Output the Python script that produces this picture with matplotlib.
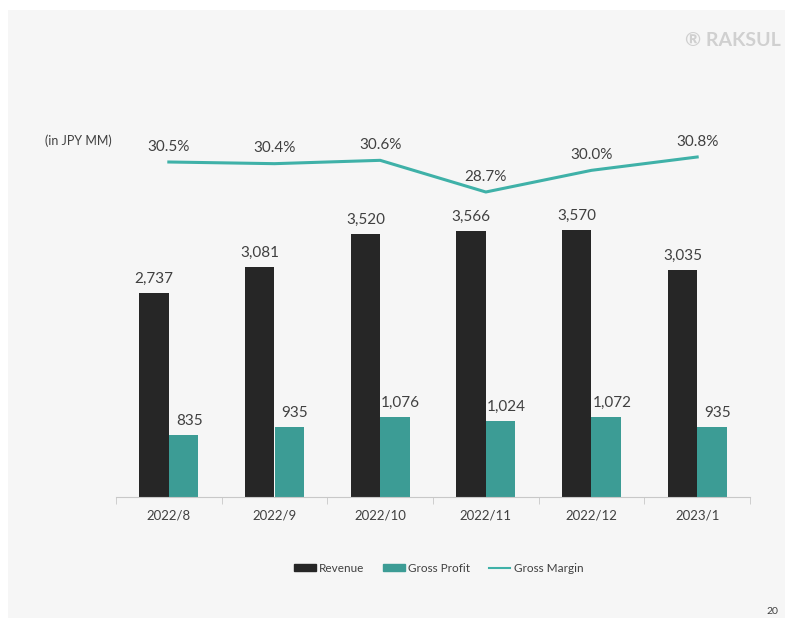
"""Monthly revenue / gross profit with gross margin line."""

import numpy as np
import matplotlib.pyplot as plt
from matplotlib.patches import Rectangle, Patch
from matplotlib.lines import Line2D

months = ['2022/8', '2022/9', '2022/10', '2022/11', '2022/12', '2023/1']
revenue = [2737, 3081, 3520, 3566, 3570, 3035]
gross_profit = [835, 935, 1076, 1024, 1072, 935]
gross_margin = [30.5, 30.4, 30.6, 28.7, 30.0, 30.8]

REV_C = '#262626'
GP_C = '#3c9c95'
GM_C = '#3fb1a8'
TXT = '#404040'

plt.rcParams['font.family'] = ['Lato', 'DejaVu Sans']

W, H = 791, 624
fig = plt.figure(figsize=(W / 100, H / 100), dpi=100)
fig.patch.set_facecolor('white')
fig.add_artist(Rectangle((8 / W, 1 - 618 / H), 777 / W, 608 / H,
                         transform=fig.transFigure, facecolor='#f6f6f6',
                         edgecolor='none', zorder=-5))

ax = fig.add_axes([116 / W, 127 / H, 634 / W, 373.5 / H])
ax.set_facecolor('none')
x = np.arange(len(months))
bw = 0.28
ax.bar(x - bw / 2, revenue, bw, color=REV_C)
ax.bar(x + bw / 2, gross_profit, bw, color=GP_C)
for xi, v in zip(x, revenue):
    ax.annotate(f'{v:,}', (xi - bw / 2, v), xytext=(0, 5), textcoords='offset points',
                ha='center', va='bottom', fontsize=11, color=TXT)
for xi, v in zip(x, gross_profit):
    ax.annotate(f'{v:,}', (xi + bw / 2, v), xytext=(4, 5), textcoords='offset points',
                ha='center', va='bottom', fontsize=11, color=TXT)
ax.set_xlim(-0.5, len(months) - 0.5)
ax.set_ylim(0, 5000)
ax.set_yticks([])
ax.set_xticks(x)
ax.set_xticklabels(months, fontsize=9.5, color=TXT)
ax.tick_params(axis='x', which='major', length=0, pad=9)
ax.set_xticks(np.arange(-0.5, len(months)), minor=True)
ax.tick_params(axis='x', which='minor', length=5, color='#c8c8c8')
for s in ['top', 'left', 'right']:
    ax.spines[s].set_visible(False)
ax.spines['bottom'].set_color('#c8c8c8')

ax2 = ax.twinx()
ax2.plot(x, gross_margin, color=GM_C, lw=2.2)
for xi, v in zip(x, gross_margin):
    ax2.annotate(f'{v:.1f}%', (xi, v), xytext=(0, 6), textcoords='offset points',
                 ha='center', va='bottom', fontsize=11, color=TXT)
ax2.set_ylim(10.4, 32.81)
ax2.axis('off')

fig.text(45 / W, 1 - 141 / H, '(in JPY MM)', fontsize=9, color=TXT, va='center')

handles = [Patch(color=REV_C), Patch(color=GP_C), Line2D([], [], color=GM_C, lw=1.5)]
fig.legend(handles, ['Revenue', 'Gross Profit', 'Gross Margin'], loc='center',
           bbox_to_anchor=(439 / W, 1 - 568 / H), ncol=3, frameon=False, fontsize=8.5,
           handlelength=1.8, handleheight=0.6, handletextpad=0.3, columnspacing=1.6,
           labelcolor=TXT)

fig.text(781 / W, 1 - 40 / H, '\u00AE RAKSUL', fontsize=14, color='#d0d0d0',
         ha='right', va='center', fontweight='bold')
fig.text(778 / W, 1 - 611 / H, '20', fontsize=7.5, color=TXT, ha='right', va='center')

fig.savefig('out.png', dpi=100, facecolor=fig.get_facecolor())
